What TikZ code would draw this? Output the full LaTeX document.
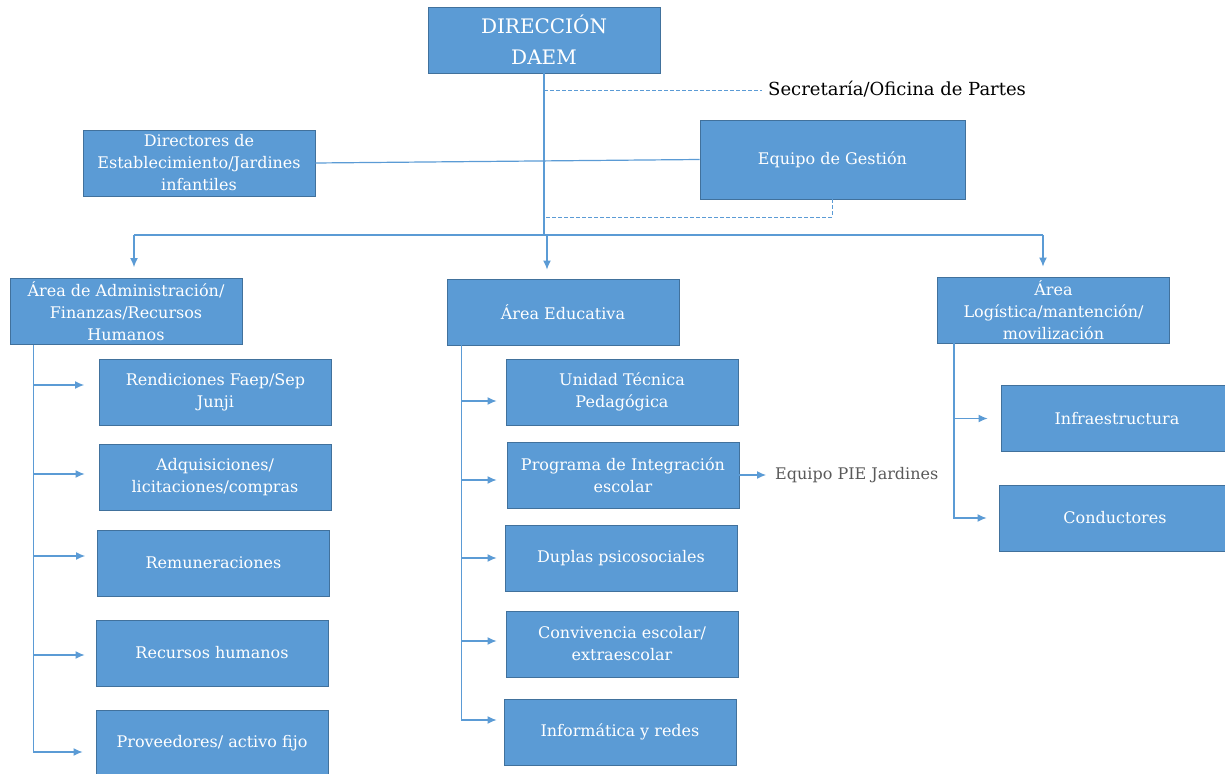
\documentclass[tikz,border=0pt]{standalone}
\usepackage{fontspec}
\setmainfont{DejaVu Serif}
\usepackage{tikz}
\usetikzlibrary{arrows.meta}
\usetikzlibrary{positioning}
\definecolor{mblue}{RGB}{91, 155, 213}
\definecolor{mline}{RGB}{65, 113, 156}
\definecolor{mgray}{RGB}{89, 89, 89}
\tikzset{box/.style = {draw = mline, line width = 0.9pt, fill = mblue, text = white,
                       align = center, minimum width = 232pt, minimum height = 66pt,
                       inner sep = 0, font = \fontsize{16}{22}\selectfont}}
\tikzset{link/.style = {draw = mblue, line width = 1.2pt}}
\tikzset{arr/.style = {link, -{Latex[length = 9pt, width = 8pt]}}}
\tikzset{dotlink/.style = {link, line width = 0.9pt, dash pattern = on 4pt off 2pt}}
\tikzset{note/.style = {anchor = west, inner sep = 0}}

\begin{document}
\begin{tikzpicture}[x = 1pt, y = -1pt]
    \useasboundingbox (0, 0) rectangle (1225, 773);

    \node [box, font = \fontsize{20}{31}\selectfont] (daem) at (544, 40) {DIRECCIÓN\\DAEM};
    \node [box] (directores) at (199, 163) {Directores de\\Establecimiento/Jardines\\infantiles};
    \node [box, minimum width = 265pt, minimum height = 79pt] (gestion) at (832.5, 159.5) {Equipo de Gestión};
    \node [note, font = \fontsize{18}{22}\selectfont] (secretaria) at (768, 89) {Secretaría/Oficina de Partes};

    \node [box] (admin) at (126, 311.5) {Área de Administración/\\Finanzas/Recursos\\Humanos};
    \node [box] (educativa) at (563, 312) {Área Educativa};
    \node [box] (logistica) at (1053.5, 310) {Área\\Logística/mantención/\\movilización};

    \node [box] (rendiciones) at (215.5, 392) {Rendiciones Faep/Sep\\Junji};
    \node [box] (adquisiciones) at (215, 477) {Adquisiciones/\\licitaciones/compras};
    \node [box] (remuneraciones) at (213.5, 563) {Remuneraciones};
    \node [box] (rrhh) at (212, 653) {Recursos humanos};
    \node [box] (proveedores) at (212, 743) {Proveedores/ activo fijo};

    \node [box] (utp) at (622, 392) {Unidad Técnica\\Pedagógica};
    \node [box] (pie) at (623, 475) {Programa de Integración\\escolar};
    \node [box] (duplas) at (621, 558) {Duplas psicosociales};
    \node [box] (convivencia) at (622, 644) {Convivencia escolar/\\extraescolar};
    \node [box] (informatica) at (620, 732) {Informática y redes};
    \node [note, text = mgray, font = \fontsize{16}{20}\selectfont] (piejardines) at (775, 475) {Equipo PIE Jardines};

    \node [box] (infra) at (1117, 418.5) {Infraestructura};
    \node [box] (conductores) at (1115, 518) {Conductores};

    \coordinate (secjoin) at (544, 90);
    \coordinate (gesjoin) at (544, 217);
    \coordinate (busl) at (134, 235);
    \coordinate (busm) at (547, 235);
    \coordinate (busr) at (1043, 235);
    \coordinate (lspine) at ([xshift = 24pt]admin.south west);
    \coordinate (mspine) at ([xshift = 15pt]educativa.south west);
    \coordinate (rspine) at ([xshift = 17pt]logistica.south west);

    \draw [link] (daem) -- (daem.south |- busl);
    \draw [dotlink, shorten >= 6pt] (secjoin) -- (secjoin -| secretaria.west);
    \draw [link] (directores.east) -- (gestion.west);
    \draw [dotlink] (gestion.south) |- (gesjoin);

    \draw [link] (busl) -- (busr);
    \draw [arr, shorten >= 11pt] (busl) -- (busl |- admin.north);
    \draw [arr, shorten >= 9pt] (busm) -- (busm |- educativa.north);
    \draw [arr, shorten >= 10pt] (busr) -- (busr |- logistica.north);

    \draw [arr, shorten >= 13pt] (lspine) |- ([yshift = -9pt]proveedores.west);
    \draw [arr, shorten >= 15pt] ([yshift = 7pt]lspine |- rendiciones.west) -- ([yshift = 7pt]rendiciones.west);
    \draw [arr, shorten >= 14pt] ([yshift = 3pt]lspine |- adquisiciones.west) -- ([yshift = 3pt]adquisiciones.west);
    \draw [arr, shorten >= 12pt] ([yshift = 7pt]lspine |- remuneraciones.west) -- ([yshift = 7pt]remuneraciones.west);
    \draw [arr, shorten >= 11pt] ([yshift = -2pt]lspine |- rrhh.west) -- ([yshift = -2pt]rrhh.west);

    \draw [arr, shorten >= 7pt] (mspine) |- ([yshift = 12pt]informatica.west);
    \draw [arr, shorten >= 9pt] ([yshift = -9pt]mspine |- utp.west) -- ([yshift = -9pt]utp.west);
    \draw [arr, shorten >= 10pt] ([yshift = -5pt]mspine |- pie.west) -- ([yshift = -5pt]pie.west);
    \draw [arr, shorten >= 8pt] (mspine |- duplas.west) -- (duplas.west);
    \draw [arr, shorten >= 9pt] ([yshift = 3pt]mspine |- convivencia.west) -- ([yshift = 3pt]convivencia.west);
    \draw [arr, shorten >= 9pt] (pie.east) -- (piejardines.west);

    \draw [arr, shorten >= 12pt] (rspine) |- (conductores.west);
    \draw [arr, shorten >= 13pt] (rspine |- infra.west) -- (infra.west);
\end{tikzpicture}
\end{document}
